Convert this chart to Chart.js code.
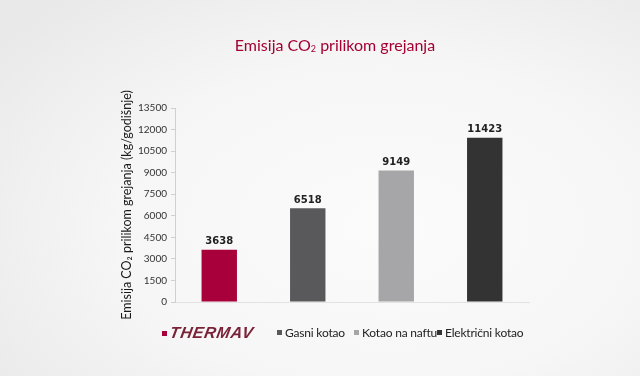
<!DOCTYPE html>
<html>
<head>
<meta charset="utf-8">
<script src="https://cdn.jsdelivr.net/npm/chart.js@4"></script>
<style>
  html, body { margin:0; padding:0; }
  body { width:640px; height:376px; overflow:hidden; position:relative;
         background: radial-gradient(ellipse 75% 80% at 60% 60%, #fbfbfb 0%, #f6f6f6 55%, #e9e9e9 100%);
         font-family: Lato, "Open Sans", sans-serif; }
  #c { position:absolute; left:0; top:0; }
  #title { position:absolute; left:0; width:670px; top:35px; text-align:center;
           color:#a50034; font-family: Lato, "Open Sans", sans-serif; font-size:16px; }
  #title sub { font-size:9px; vertical-align:baseline; position:relative; top:1px; }
  .leg { position:absolute; top:324px; font-size:12px; letter-spacing:-0.2px; color:#222; white-space:nowrap; line-height:18px; font-family: Lato, sans-serif; }
  .sq { display:inline-block; width:5px; height:5px; margin-right:3px; vertical-align:middle; position:relative; top:-1px; }
  .logo { font-family:"Liberation Sans", Arial, sans-serif; font-weight:bold; font-style:italic;
          font-size:16px; color:#7a2238; letter-spacing:0.8px; transform:skewX(-10deg); display:inline-block; }
</style>
</head>
<body>
<canvas id="c" width="640" height="376"></canvas>
<div id="title">Emisija CO<sub>2</sub> prilikom grejanja</div>
<div id="legend"></div>
<script>
const categories = ["THERMAV", "Gasni kotao", "Kotao na naftu", "Električni kotao"];
const values = [3638, 6518, 9149, 11423];
const colors = ["#a8003a", "#59595b", "#a6a6a8", "#333334"];
const yTicks = [0, 1500, 3000, 4500, 6000, 7500, 9000, 10500, 12000, 13500];
const yTitle = "Emisija CO₂ prilikom grejanja (kg/godišnje)";

const legendX = [162, 277, 354, 437];
const legend = document.getElementById('legend');
categories.forEach((c, i) => {
  const d = document.createElement('div');
  d.className = 'leg';
  d.style.left = legendX[i] + 'px';
  const sq = document.createElement('span');
  sq.className = 'sq';
  sq.style.background = colors[i];
  d.appendChild(sq);
  const t = document.createElement('span');
  if (i === 0) { t.className = 'logo'; t.textContent = 'THERMAV'; }
  else t.textContent = c;
  d.appendChild(t);
  legend.appendChild(d);
});

const valueLabels = {
  id: 'valueLabels',
  afterDatasetsDraw(chart) {
    const ctx = chart.ctx;
    const meta = chart.getDatasetMeta(0);
    ctx.save();
    ctx.font = 'bold 10px "DejaVu Sans", sans-serif';
    ctx.fillStyle = '#222';
    ctx.textAlign = 'center';
    ctx.textBaseline = 'bottom';
    meta.data.forEach((bar, i) => {
      ctx.fillText(String(values[i]), bar.x, bar.y - 3);
    });
    ctx.restore();
  }
};

new Chart(document.getElementById('c'), {
  type: 'bar',
  data: {
    labels: categories,
    datasets: [{ data: values, backgroundColor: colors, barPercentage: 0.4, categoryPercentage: 1.0 }]
  },
  options: {
    responsive: false,
    animation: false,
    layout: { padding: { left: 119, right: 111, top: 108, bottom: 74 } },
    plugins: { legend: { display: false }, tooltip: { enabled: false } },
    scales: {
      x: {
        ticks: { display: false },
        grid: { display: false, drawTicks: false },
        border: { display: true, color: '#e2e2e2' },
        afterFit(s) { s.height = 0; }
      },
      y: {
        min: 0, max: 13500,
        afterBuildTicks(s) { s.ticks = yTicks.map(v => ({ value: v })); },
        ticks: { color: '#333', font: { size: 10, family: 'Lato, sans-serif' }, padding: 4,
                 callback: (v) => String(v) },
        grid: { drawOnChartArea: false, drawTicks: true, tickLength: 4, color: '#d0d0d0' },
        border: { display: true, color: '#d0d0d0' },
        title: { display: true, text: yTitle, color: '#1a1a1a', font: { size: 12.5, family: 'Lato, "Open Sans", sans-serif' }, padding: 0 },
        afterFit(s) { s.width = 56; }
      }
    }
  },
  plugins: [valueLabels]
});
</script>
</body>
</html>
